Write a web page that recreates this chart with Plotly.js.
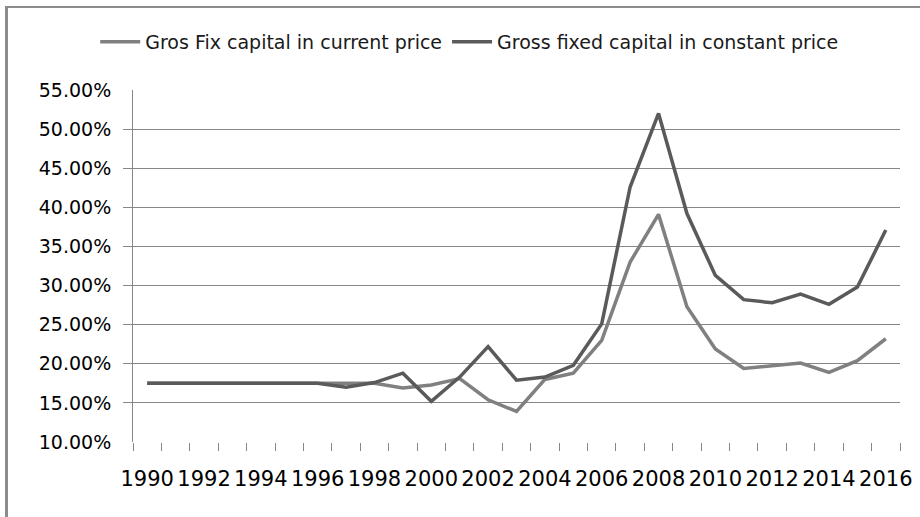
<!DOCTYPE html>
<html>
<head>
<meta charset="utf-8">
<script src="https://cdn.plot.ly/plotly-3.0.1.min.js"></script>
<style>
  html, body { margin: 0; padding: 0; background: #fff; }
  #wrap { position: relative; width: 920px; height: 517px; overflow: hidden; }
  #chart { position: absolute; left: 0; top: 0; width: 920px; height: 517px; }
  #frame { position: absolute; left: 5px; top: 6px; width: 915px; height: 511px;
           border-left: 3px solid #8c8c8c; border-top: 2px solid #8c8c8c;
           box-sizing: border-box; pointer-events: none; z-index: 5; }
</style>
</head>
<body>
<div id="wrap">
  <div id="chart"></div>
  <div id="frame"></div>
</div>
<script>
// ---- data ----
const years = [1990, 1991, 1992, 1993, 1994, 1995, 1996, 1997, 1998, 1999,
               2000, 2001, 2002, 2003, 2004, 2005, 2006, 2007, 2008, 2009,
               2010, 2011, 2012, 2013, 2014, 2015, 2016];

// Gross fixed capital in current price (%)
const currentPrice = [17.5, 17.5, 17.5, 17.5, 17.4, 17.4, 17.5, 17.4, 17.5, 16.9,
                      17.3, 18.1, 15.4, 13.9, 18.0, 18.8, 23.0, 33.0, 39.1, 27.3,
                      21.9, 19.4, 19.7, 20.1, 18.9, 20.4, 23.2];

// Gross fixed capital in constant price (%)
const constantPrice = [17.5, 17.5, 17.5, 17.5, 17.5, 17.5, 17.5, 17.0, 17.6, 18.8,
                       15.2, 18.3, 22.2, 17.9, 18.3, 19.8, 25.1, 42.6, 52.0, 39.2,
                       31.3, 28.2, 27.8, 28.9, 27.6, 29.8, 37.1];

const seriesNames = ["Gros Fix capital in current price",
                     "Gross fixed capital in constant price"];

const yLabelValues = [10, 15, 20, 25, 30, 35, 40, 45, 50, 55];
const yLabelText   = ["10.00%", "15.00%", "20.00%", "25.00%", "30.00%",
                      "35.00%", "40.00%", "45.00%", "50.00%", "55.00%"];
const yGridValues  = [15, 20, 25, 30, 35, 40, 45, 50];
const xLabelYears  = [1990, 1992, 1994, 1996, 1998, 2000, 2002, 2004, 2006,
                      2008, 2010, 2012, 2014, 2016];

// ---- chart ----
const GRID = '#868686';
const traces = [
  { x: years, y: currentPrice, name: seriesNames[0], type: 'scatter', mode: 'lines',
    yaxis: 'y', line: { color: '#808080', width: 3.5 } },
  { x: years, y: constantPrice, name: seriesNames[1], type: 'scatter', mode: 'lines',
    yaxis: 'y2', line: { color: '#5a5a5a', width: 3.5 } }
];

const layout = {
  width: 920, height: 517,
  margin: { l: 133, r: 20, t: 90, b: 75 },
  paper_bgcolor: 'rgba(0,0,0,0)',
  plot_bgcolor: 'rgba(0,0,0,0)',
  showlegend: true,
  legend: {
    orientation: 'h', xref: 'container', yref: 'container',
    x: 0.51, xanchor: 'center', y: 1 - 42 / 517, yanchor: 'middle',
    font: { family: 'DejaVu Sans', size: 19, color: '#1a1a1a' },
    itemwidth: 40, bgcolor: 'rgba(0,0,0,0)'
  },
  xaxis: {
    range: [1989.5, 2016.5],
    tickmode: 'array', tickvals: xLabelYears, ticktext: xLabelYears.map(String),
    ticks: '', showgrid: false, showline: false, zeroline: false,
    ticklabelstandoff: 22,
    tickfont: { family: 'DejaVu Sans', size: 21, color: '#000' },
    minor: { tick0: 1989.5, dtick: 1, ticks: 'outside', ticklen: 8,
             tickcolor: GRID, tickwidth: 1, showgrid: false }
  },
  yaxis: {
    range: [10, 55],
    tickmode: 'array', tickvals: yLabelValues, ticktext: yLabelText,
    ticks: '', showgrid: false, zeroline: false,
    showline: true, linecolor: GRID, linewidth: 1,
    ticklabelstandoff: 17,
    tickfont: { family: 'DejaVu Sans', size: 19, color: '#000' }
  },
  yaxis2: {
    range: [10, 55], overlaying: 'y', side: 'left',
    tickmode: 'array', tickvals: yGridValues,
    showticklabels: false, ticks: 'outside', ticklen: 9, tickcolor: GRID,
    showgrid: true, gridcolor: GRID, gridwidth: 1, zeroline: false, showline: false
  }
};

Plotly.newPlot('chart', traces, layout, { displayModeBar: false, staticPlot: true });
</script>
</body>
</html>
